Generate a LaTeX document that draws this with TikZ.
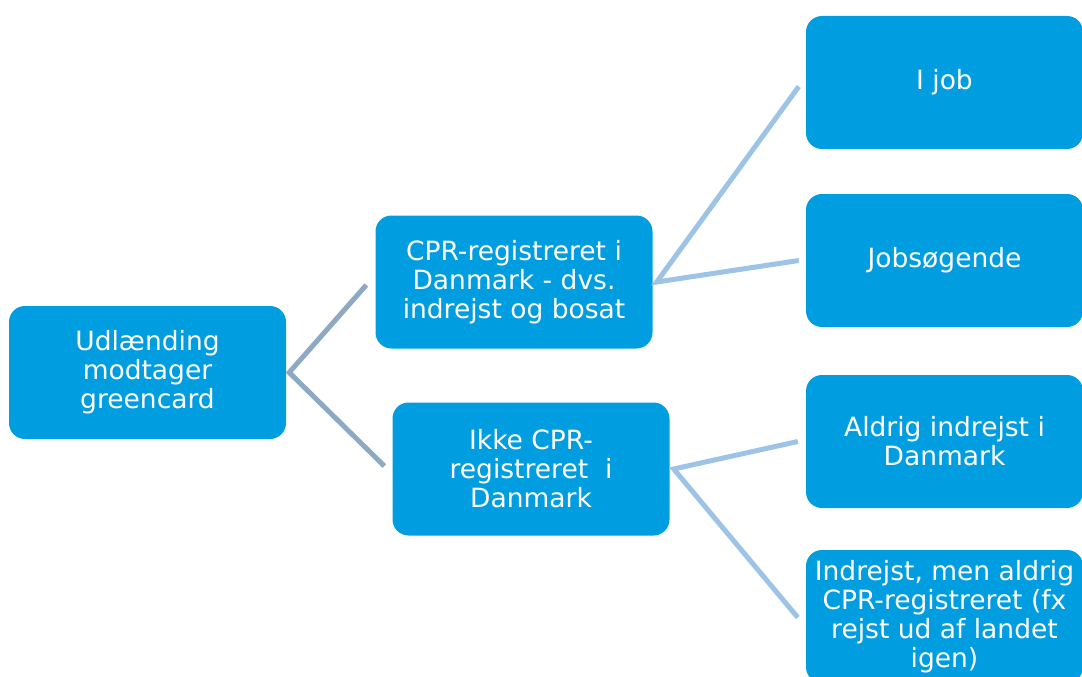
\documentclass[tikz,border=0pt]{standalone}
\usepackage{fontspec}
\setmainfont{DejaVu Sans}
\usepackage{tikz}

\definecolor{boxblue}{RGB}{0,158,224}
\definecolor{linkgray}{RGB}{141,169,196}
\definecolor{linkblue}{RGB}{157,195,230}

\begin{document}
\begin{tikzpicture}[x=1pt,y=-1pt,
    card/.style={fill=boxblue, rounded corners=16pt, text=white, align=center,
      minimum width=277pt, minimum height=133pt, inner sep=0pt,
      font=\fontsize{26.5}{29}\selectfont},
    link/.style={line width=5pt},
    link1/.style={link, draw=linkgray},
    link2/.style={link, draw=linkblue}]
   \useasboundingbox (0,0) rectangle (1082,677);
   \node[card] (udl)   at (147.5,372.5) {Udlænding\\modtager\\greencard};
   \node[card] (cpr)   at (514,282)     {CPR-registreret i\\Danmark - dvs.\\indrejst og bosat};
   \node[card] (ikke)  at (531,469)     {Ikke CPR-\\registreret\ \ i\\Danmark};
   \node[card] (job)   at (944.5,82.5)  {I job};
   \node[card] (soeg)  at (944.5,260.5) {Jobsøgende};
   \node[card] (aldr)  at (944.5,441.5) {Aldrig indrejst i\\Danmark};
   \node[card] (indr)  at (944.5,616.5) {Indrejst, men aldrig\\CPR-registreret (fx\\rejst ud af landet\\igen)};
   \draw[link1] ([xshift=-9pt,yshift=-3pt]cpr.west) -- ([xshift=3pt]udl.east) -- ([xshift=-8pt,yshift=3pt]ikke.west);
   \draw[link2] ([xshift=-7pt,yshift=-4pt]job.west) -- ([xshift=4pt]cpr.east) -- ([xshift=-7pt]soeg.west);
   \draw[link2] ([xshift=-8pt]aldr.west) -- ([xshift=4pt]ikke.east) -- ([xshift=-8pt,yshift=-1pt]indr.west);
\end{tikzpicture}
\end{document}
